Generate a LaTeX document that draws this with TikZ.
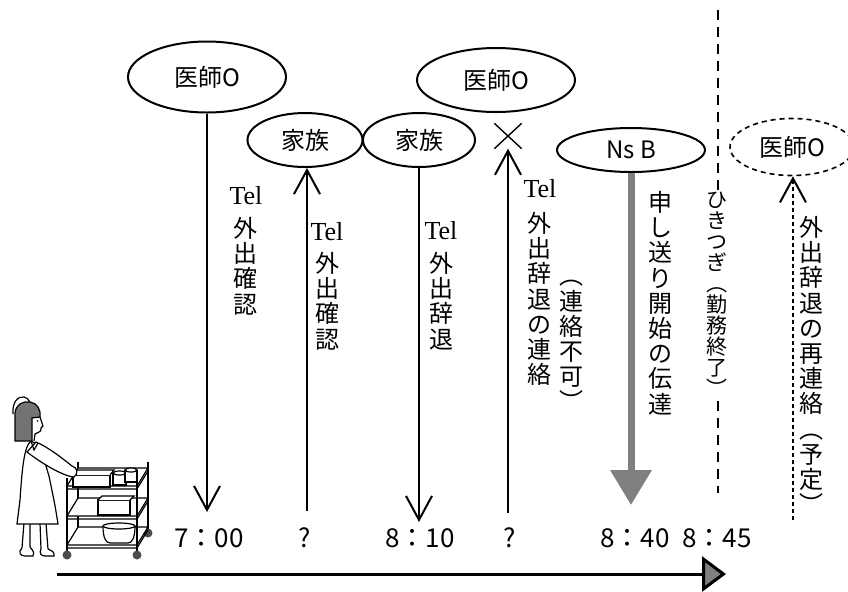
\documentclass[tikz,border=0pt]{standalone}
\usepackage{fontspec}
\newfontfamily\jp{Noto Sans CJK JP}
\newfontfamily\tm{Liberation Serif}
\usetikzlibrary{arrows.meta,shapes.geometric,shapes.misc}

\tikzset{
  party/.style={ellipse,draw,line width=1pt,inner sep=0pt,font=\jp\fontsize{12}{12}\selectfont},
  vtxt/.style={align=center,inner sep=0pt,anchor=north,font=\jp\fontsize{12}{12.6}\selectfont},
  tel/.style={inner sep=0pt,font=\tm\fontsize{13}{13}\selectfont},
  clock/.style={inner sep=0pt,font=\jp\fontsize{13}{13}\selectfont},
  call/.style={line width=1pt,-{Straight Barb[length=12pt,width=13pt]}},
}

\begin{document}
\begin{tikzpicture}[x=0.5pt,y=-0.5pt,>=Stealth]
\useasboundingbox (0,0) rectangle (848,591);

% who is called
\node[party,minimum width=79pt,minimum height=35.5pt] (docA) at (207,77) {医師O};
\node[party,minimum width=57.5pt,minimum height=27pt] (famA) at (305,140) {家族};
\node[party,minimum width=56pt,minimum height=27pt] (famB) at (419,140) {家族};
\node[party,minimum width=79pt,minimum height=32pt] (docB) at (496,80) {医師O};
\node[party,minimum width=74pt,minimum height=22pt] (nsB) at (631,150) {Ns B};
\node[party,dash pattern=on 2.5pt off 2pt,line width=0.8pt,minimum width=62pt,minimum height=28.5pt] (docC) at (792,147) {医師O};
\node[draw,cross out,line width=0.7pt,inner sep=0pt,minimum width=13pt,minimum height=12pt] (cross) at (508,136) {};

% lower ends of the calls
\coordinate (eA) at (207,512);
\coordinate (eB) at (307,511);
\coordinate (eC) at (419,522);
\coordinate (eD) at (508,513);
\coordinate (eE) at (631,505);
\coordinate (eG) at (793,520);
\coordinate (sepTop) at (718,10);
\coordinate (sepBot) at (718,493);

\draw[call] (docA) -- (eA);
\draw[call] (eB) -- (eB |- famA.south);
\draw[call] (famB) -- (eC);
\draw[call] (eD) -- (cross.south);
\draw[line width=3.5pt,black!50,-{Triangle[length=17.5pt,width=20pt]}] (nsB) -- (eE);
\draw[line width=1pt,dash pattern=on 5pt off 3.5pt] (sepTop) -- (sepBot);
\draw[call,dash pattern=on 2pt off 1.5pt] (eG) -- (eG |- docC.south);

% what was said
\node[tel] (telA) at (246,196) {Tel};
\node[tel] (telB) at (327,232) {Tel};
\node[tel] (telC) at (441,231) {Tel};
\node[tel] (telD) at (540,189) {Tel};
\node[vtxt] (msgA) at (245,217) {外\\出\\確\\認};
\node[vtxt] (msgB) at (327,252) {外\\出\\確\\認};
\node[vtxt] (msgC) at (441,252) {外\\出\\辞\\退};
\node[vtxt] (msgD) at (539,212) {外\\出\\辞\\退\\の\\連\\絡};
\node[vtxt] (msgD2) at (571,280) {︵\\連\\絡\\不\\可\\︶};
\node[vtxt] (msgE) at (660,191) {申\\し\\送\\り\\開\\始\\の\\伝\\達};
\node[vtxt,fill=white,inner sep=1pt,font=\jp\fontsize{10.5}{10.5}\selectfont] (msgF) at (717,190) {ひ\\き\\つ\\ぎ\\︵\\勤\\務\\終\\了\\︶};
\node[vtxt] (msgG) at (811,216) {外\\出\\辞\\退\\の\\再\\連\\絡\\︵\\予\\定\\︶};

% times
\node[clock] (tA) at (209,538) {7：00};
\node[clock] (tB) at (305,538) {?};
\node[clock] (tC) at (420,538) {8：10};
\node[clock] (tD) at (510,538) {?};
\node[clock] (tE) at (635,538) {8：40};
\node[clock] (tF) at (717,538) {8：45};

\coordinate (tl0) at (57,574);
\coordinate (tl1) at (726,574);
\draw[line width=1.5pt,-{Triangle[length=12pt,width=17.5pt,fill=black!50]}] (tl0) -- (tl1);

% nurse with the cart
\begin{scope}[line width=0.6pt]
% back posts
\draw[line width=1.2pt] (78,462) -- (78,530);
\draw[line width=1.2pt] (148,462) -- (148,531);
\fill[black!70] (148,533) circle (4.5);
% shelves
\foreach \yf in {486,516,545} {
  \draw[fill=white] (67,\yf) -- (137,\yf) -- (148,\yf-18) -- (78,\yf-18) -- cycle;
  \draw (67,\yf+3) -- (137,\yf+3) -- (148,\yf-15);
}
% things on the shelves
\draw[fill=white] (73,475) -- (110,475) -- (110,487) -- (73,487) -- cycle;
\draw[fill=white] (73,475) -- (77,470) -- (114,470) -- (110,475);
\draw[fill=white] (113,473) -- (113,485) -- (126,485) -- (126,473);
\draw[fill=white] (119.5,473) ellipse (6.5 and 2);
\draw[fill=white] (125,470) -- (125,482) -- (137,482) -- (137,470);
\draw[fill=white] (131,470) ellipse (6 and 2);
\draw[fill=white] (98,500) -- (130,500) -- (130,515) -- (98,515) -- cycle;
\draw[fill=white] (98,500) -- (102,496) -- (134,496) -- (130,500);
\draw[fill=white] (103,526) .. controls (103,538) and (106,543) .. (110,543) -- (128,543) .. controls (132,543) and (135,538) .. (135,526);
\draw[fill=white] (119,526) ellipse (16 and 3);
% front posts and wheels
\draw[line width=1.2pt] (67,478) -- (67,552);
\draw[line width=1.2pt] (137,483) -- (137,552);
\fill[black!70] (67,555) circle (4.5);
\fill[black!70] (137,555) circle (4.5);
% legs and shoes
\draw (24,523) -- (22,548) (30,523) -- (30,547);
\draw[fill=white] (22,548) .. controls (18,552) and (20,556) .. (25,556) -- (33,556) .. controls (34,552) .. (30,547);
\draw (40,523) -- (41,549) (46,523) -- (48,549);
\draw[fill=white] (41,549) .. controls (39,553) and (41,556) .. (45,556) -- (54,556) .. controls (54,552) .. (48,549);
% dress and arm
\draw[fill=white] (31,441) .. controls (24,446) and (22,470) .. (20,500) -- (17,524) -- (58,524) .. controls (55,505) .. (49,476) -- (40,446) -- cycle;
\draw[fill=white] (36,442) .. controls (48,447) and (62,458) .. (72,466) .. controls (77,467) and (79,474) .. (74,477) .. controls (62,476) and (40,462) .. (27,452) -- cycle;
\draw (31,441) -- (34,450) -- (38,443);
% head
\draw[fill=white] (13,414) .. controls (12,402) and (18,396) .. (24,397) .. controls (29,398) and (31,403) .. (30,408);
\draw[fill=black!55] (15,441) -- (15,413) .. controls (16,404) and (23,401) .. (30,402) .. controls (37,403) and (41,409) .. (40,417) -- (32,418) -- (32,441) -- cycle;
\draw (40,417) .. controls (41,421) .. (43,426) -- (41,428) .. controls (41,431) .. (39,432) .. controls (37,433) .. (35,434) -- (34,441);
\fill (37.5,421) circle (0.8);
\end{scope}
\end{tikzpicture}
\end{document}
